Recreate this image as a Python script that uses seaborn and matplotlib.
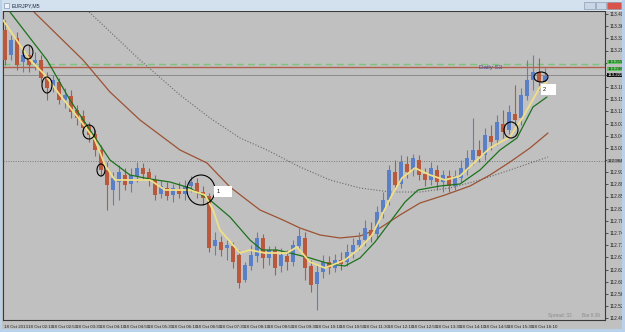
import numpy as np
import pandas as pd
import matplotlib
matplotlib.use('Agg')
import matplotlib.pyplot as plt
import seaborn as sns
from matplotlib.patches import Ellipse, Rectangle
import matplotlib.transforms as mtransforms

sns.set_style('white')
plt.rcParams['font.family'] = ['Liberation Sans Narrow', 'Liberation Sans', 'DejaVu Sans']

# ---------------- data (EURJPY) ----------------
opens = [113.357, 113.282, 113.333, 113.261, 113.282, 113.258, 113.267, 113.213, 113.189, 113.201,
         113.147, 113.159, 113.117, 113.099, 113.069, 113.045, 112.997, 112.937, 112.877, 112.901,
         112.922, 112.895, 112.919, 112.943, 112.931, 112.907, 112.865, 112.883, 112.862, 112.880,
         112.865, 112.889, 112.898, 112.871, 112.859, 112.709, 112.721, 112.703, 112.709, 112.682,
         112.607, 112.649, 112.679, 112.733, 112.673, 112.697, 112.649, 112.679, 112.661, 112.709,
         112.733, 112.649, 112.595, 112.631, 112.661, 112.643, 112.667, 112.661, 112.691, 112.712,
         112.727, 112.757, 112.745, 112.811, 112.847, 112.931, 112.895, 112.955, 112.937, 112.967,
         112.925, 112.907, 112.937, 112.901, 112.919, 112.889, 112.913, 112.937, 112.967, 112.997,
         112.982, 113.039, 113.027, 113.075, 113.057, 113.105, 113.093, 113.159, 113.207, 113.231,
         113.201]
closes = [113.267, 113.327, 113.252, 113.282, 113.252, 113.267, 113.213, 113.183, 113.207, 113.147,
          113.162, 113.111, 113.093, 113.063, 113.042, 112.997, 112.937, 112.892, 112.913, 112.931,
          112.892, 112.922, 112.943, 112.925, 112.907, 112.862, 112.889, 112.859, 112.883, 112.865,
          112.889, 112.901, 112.871, 112.853, 112.703, 112.727, 112.697, 112.712, 112.661, 112.598,
          112.652, 112.682, 112.733, 112.673, 112.697, 112.643, 112.682, 112.661, 112.712, 112.739,
          112.643, 112.592, 112.631, 112.661, 112.643, 112.667, 112.655, 112.691, 112.712, 112.727,
          112.763, 112.739, 112.811, 112.847, 112.937, 112.892, 112.961, 112.931, 112.973, 112.922,
          112.907, 112.943, 112.901, 112.922, 112.889, 112.919, 112.943, 112.973, 112.997, 112.979,
          113.042, 113.021, 113.081, 113.051, 113.111, 113.087, 113.162, 113.207, 113.231, 113.201,
          113.219]
highs = [113.387, 113.342, 113.351, 113.303, 113.312, 113.291, 113.282, 113.231, 113.222, 113.213,
         113.183, 113.177, 113.132, 113.117, 113.081, 113.057, 113.012, 112.961, 112.931, 112.952,
         112.943, 112.943, 112.961, 112.958, 112.943, 112.922, 112.907, 112.901, 112.895, 112.901,
         112.907, 112.919, 112.913, 112.889, 112.868, 112.751, 112.739, 112.727, 112.721, 112.697,
         112.661, 112.712, 112.751, 112.745, 112.709, 112.709, 112.703, 112.697, 112.727, 112.763,
         112.751, 112.667, 112.652, 112.682, 112.679, 112.685, 112.691, 112.715, 112.733, 112.751,
         112.787, 112.781, 112.829, 112.871, 112.952, 112.967, 112.982, 112.979, 112.985, 112.982,
         112.943, 112.961, 112.952, 112.937, 112.937, 112.937, 112.967, 112.997, 113.093, 113.027,
         113.063, 113.072, 113.102, 113.117, 113.132, 113.192, 113.183, 113.267, 113.282, 113.273,
         113.243]
lows = [113.252, 113.267, 113.237, 113.231, 113.231, 113.237, 113.201, 113.147, 113.171, 113.135,
        113.123, 113.093, 113.072, 113.051, 113.021, 112.979, 112.919, 112.817, 112.832, 112.847,
        112.877, 112.871, 112.901, 112.907, 112.889, 112.847, 112.853, 112.847, 112.841, 112.853,
        112.847, 112.871, 112.853, 112.832, 112.691, 112.682, 112.679, 112.667, 112.643, 112.583,
        112.601, 112.637, 112.661, 112.643, 112.652, 112.622, 112.631, 112.637, 112.649, 112.697,
        112.607, 112.571, 112.517, 112.613, 112.625, 112.631, 112.637, 112.649, 112.673, 112.697,
        112.709, 112.721, 112.733, 112.793, 112.832, 112.877, 112.883, 112.913, 112.919, 112.907,
        112.889, 112.892, 112.877, 112.871, 112.871, 112.877, 112.901, 112.922, 112.952, 112.961,
        112.967, 112.997, 113.012, 113.033, 113.045, 113.072, 113.072, 113.147, 113.177, 113.177,
        113.189]

time_labels = ["18 Oct 2013", "18 Oct 02:10", "18 Oct 02:50", "18 Oct 03:30", "18 Oct 04:10",
               "18 Oct 04:50", "18 Oct 05:30", "18 Oct 06:10", "18 Oct 06:50", "18 Oct 07:30",
               "18 Oct 08:10", "18 Oct 08:50", "18 Oct 09:30", "18 Oct 10:10", "18 Oct 10:50",
               "18 Oct 11:30", "18 Oct 12:10", "18 Oct 12:50", "18 Oct 13:30", "18 Oct 14:10",
               "18 Oct 14:50", "18 Oct 15:30", "18 Oct 16:10"]

# moving averages (bar index, price)
ma_fast_x = [-0.33, 2.5, 4.17, 6.67, 9.17, 12.5, 15, 16.67, 18.33, 20.83, 24.17, 26.67, 30.83, 33.33,
             34.67, 35.83, 39.17, 40.83, 43.33, 47, 48.67, 50.83, 53.33, 56.67, 59.17, 61.17, 62.83,
             64.5, 66.17, 68.33, 70.83, 73.33, 75.83, 78.33, 80.83, 84.17, 86.33, 89.17, 90.33]
ma_fast_y = [113.387, 113.312, 113.267, 113.222, 113.162, 113.087, 113.027, 112.952, 112.907, 112.907,
             112.907, 112.877, 112.877, 112.862, 112.817, 112.757, 112.688, 112.697, 112.688, 112.688,
             112.706, 112.661, 112.643, 112.667, 112.703, 112.742, 112.802, 112.862, 112.913, 112.943,
             112.922, 112.907, 112.919, 112.961, 113.003, 113.036, 113.096, 113.186, 113.201]
ma_mid_x = [0.83, 7, 10.83, 14.17, 17.5, 20.83, 24.17, 27.5, 30.83, 34.17, 37.5, 40.83, 42.83, 45.33,
            47.5, 50.83, 54.17, 56.67, 59.17, 61.67, 64.17, 66.67, 68.83, 72.5, 75.83, 79.17, 82.5,
            85.33, 88, 90.33]
ma_mid_y = [113.411, 113.267, 113.147, 113.057, 112.967, 112.922, 112.910, 112.901, 112.883, 112.847,
            112.796, 112.727, 112.697, 112.697, 112.688, 112.673, 112.655, 112.649, 112.673, 112.721,
            112.781, 112.841, 112.877, 112.889, 112.895, 112.937, 112.997, 113.033, 113.126, 113.156]
ma_slow_x = [3.83, 5, 13, 17.5, 22.5, 29.17, 33.67, 37.5, 42.5, 46.33, 49.17, 52.5, 55.83, 59.17,
             62.5, 65.83, 69.17, 73.33, 77.5, 80.83, 84.17, 87.5, 90.5]
ma_slow_y = [113.432, 113.408, 113.267, 113.171, 113.087, 112.997, 112.958, 112.886, 112.817, 112.787,
             112.763, 112.742, 112.733, 112.739, 112.763, 112.802, 112.838, 112.862, 112.889, 112.922,
             112.961, 113.003, 113.048]
ma_long_x = [13.33, 22.5, 29.17, 34.17, 39.17, 43.67, 49.17, 54.17, 59.17, 64.17, 69.17, 74.17,
             79.17, 84.17, 90.5]
ma_long_y = [113.423, 113.267, 113.162, 113.093, 113.033, 112.997, 112.946, 112.907, 112.883, 112.871,
             112.871, 112.883, 112.907, 112.937, 112.976]

green_level = 113.255
s3_level = 113.246
bid_level = 113.222
pivot_level = 112.964

y_tick_top = 113.405
y_tick_step = 0.0365

# annotations: circles (bar centre, price centre, width in bars, height in price)
circ_x = [3.83, 7.0, 14.0, 16.0, 32.67, 84.33, 89.33]
circ_y = [113.291, 113.192, 113.051, 112.937, 112.877, 113.057, 113.216]
circ_w = [1.67, 1.67, 2.0, 1.33, 4.67, 2.33, 2.33]
circ_h = [0.042, 0.048, 0.042, 0.036, 0.090, 0.048, 0.030]

# ---------------- figure ----------------
W, H = 625, 332
fig = plt.figure(figsize=(W / 100, H / 100), dpi=100, facecolor='#c0c0c0')

def fx(px):
    return px / W

def fy(py):
    return 1 - py / H

ax = fig.add_axes([fx(3), fy(320), fx(605) - fx(3), fy(11) - fy(320)])
ax.set_facecolor('#c0c0c0')

df = pd.DataFrame({'bar': np.arange(len(opens)), 'open': opens, 'close': closes,
                   'high': highs, 'low': lows})
up = df['close'] >= df['open']
col_up, col_dn = '#5b7fc4', '#b8583c'
colors = np.where(up, col_up, col_dn)

ax.vlines(df['bar'], df['low'], df['high'], colors=colors, lw=0.8, zorder=3)
body_lo = np.minimum(df['open'], df['close'])
body_h = np.maximum(np.abs(df['close'] - df['open']), 0.002)
ax.bar(df['bar'], body_h, bottom=body_lo, width=0.62, color=colors, edgecolor='none', zorder=4)

# moving averages via seaborn
sns.lineplot(x=ma_long_x, y=ma_long_y, ax=ax, color='#6a6a6a', lw=0.8, linestyle=(0, (1, 1.6)),
             estimator=None, sort=False, zorder=2)
sns.lineplot(x=ma_slow_x, y=ma_slow_y, ax=ax, color='#9c5232', lw=0.9,
             estimator=None, sort=False, zorder=2)
sns.lineplot(x=ma_mid_x, y=ma_mid_y, ax=ax, color='#1c721c', lw=0.9,
             estimator=None, sort=False, zorder=5)
sns.lineplot(x=ma_fast_x, y=ma_fast_y, ax=ax, color='#f1df86', lw=1.3,
             estimator=None, sort=False, zorder=5)

# horizontal levels
ax.axhline(green_level, color='#7cc47c', lw=1.0, linestyle=(0, (5, 3)), zorder=1)
ax.axhline(s3_level, color='#b0604c', lw=1.0, zorder=1)
ax.axhline(bid_level, color='#8c8c8c', lw=0.7, zorder=1)
ax.axhline(pivot_level, color='#7a7a7a', lw=0.7, linestyle=(0, (1, 1.5)), zorder=1)

ax.text(79.0, s3_level, 'Daily S3', fontsize=4.5, color='#4a4a92', va='center', ha='left', zorder=6)

# circles
for cx, cy, cw, ch in zip(circ_x, circ_y, circ_w, circ_h):
    ax.add_patch(Ellipse((cx, cy), cw, ch, fill=False, edgecolor='black', lw=0.8, zorder=7))

# numbered boxes
ax.add_patch(Rectangle((34.83, 112.856), 3.0, 0.033, facecolor='white', edgecolor='none', zorder=7))
ax.text(35.2, 112.8725, '1', fontsize=4, color='#111111', va='center', ha='left', zorder=8)
ax.add_patch(Rectangle((89.33, 113.162), 2.5, 0.033, facecolor='white', edgecolor='none', zorder=7))
ax.text(89.6, 113.1785, '2', fontsize=4, color='#111111', va='center', ha='left', zorder=8)

ax.text(0.905, 0.008, 'Spread: 32', transform=ax.transAxes, fontsize=3.4, color='#8a8a8a',
        ha='left', va='bottom')
ax.text(0.962, 0.008, 'Bar 0:39', transform=ax.transAxes, fontsize=3.4, color='#8a8a8a',
        ha='left', va='bottom')

# axes limits
ax.set_xlim(-0.33, 100.0)
ax.set_ylim(112.487, 113.414)

# y ticks on the right; labels hidden where a price box sits
box_levels = [green_level, s3_level, bid_level, pivot_level]
yt = [y_tick_top - k * y_tick_step for k in range(26)]
ax.yaxis.tick_right()
ax.set_yticks(yt)
ax.set_yticklabels(['' if min(abs(v - b) for b in box_levels) < 0.022 else f'{v:.3f}' for v in yt])
ax.tick_params(axis='y', labelsize=3.4, length=2, width=0.5, pad=1, colors='#202020')

# x ticks at bottom
xt = [4 * k - 0.33 for k in range(len(time_labels))]
ax.set_xticks(xt)
ax.set_xticklabels(time_labels)
ax.tick_params(axis='x', labelsize=3.2, length=2.5, width=0.5, pad=0.8, colors='#202020',
               direction='out')
offset = mtransforms.ScaledTranslation(1.2 / 100, 0, fig.dpi_scale_trans)
for lbl in ax.get_xticklabels():
    lbl.set_horizontalalignment('left')
    lbl.set_transform(lbl.get_transform() + offset)

for s in ax.spines.values():
    s.set_color('#3a3a3a')
    s.set_linewidth(0.8)

# price label boxes in the right column
trans = mtransforms.blended_transform_factory(ax.transAxes, ax.transData)
for val, fc, tc, va in [(green_level, '#5ec85e', '#103010', 'bottom'),
                        (s3_level, '#5ec85e', '#103010', 'top'),
                        (bid_level, '#111111', '#ffffff', 'center'),
                        (pivot_level, '#a0a0a0', '#202020', 'center')]:
    ax.text(1.004, val, f'{val:.3f}', transform=trans, fontsize=3.2, color=tc, va=va, ha='left',
            bbox=dict(boxstyle='square,pad=0.1', facecolor=fc, edgecolor='none'), zorder=9,
            clip_on=False)

# window chrome
fig.patches.append(Rectangle((0, fy(10.5)), 1, 1 - fy(10.5), transform=fig.transFigure,
                             facecolor='#d3e0ee', edgecolor='none', zorder=0))
fig.patches.append(Rectangle((fx(622), 0), 1 - fx(622), 1, transform=fig.transFigure,
                             facecolor='#b9d1ea', edgecolor='none', zorder=0))
fig.patches.append(Rectangle((0, 0), 1, fy(329), transform=fig.transFigure,
                             facecolor='#b9d1ea', edgecolor='none', zorder=0))
fig.patches.append(Rectangle((0, 0), fx(2), 1, transform=fig.transFigure,
                             facecolor='#b9d1ea', edgecolor='none', zorder=0))
for x0, w, c in [(584, 11, '#c8d6e6'), (596, 10, '#c8d6e6'), (607, 14, '#d9534a')]:
    fig.patches.append(Rectangle((fx(x0), fy(9)), fx(w), fy(2) - fy(9), transform=fig.transFigure,
                                 facecolor=c, edgecolor='#8090a8', lw=0.4, zorder=1))
fig.patches.append(Rectangle((fx(4), fy(8)), fx(5), fy(3) - fy(8), transform=fig.transFigure,
                             facecolor='#eef3f8', edgecolor='#7088a8', lw=0.4, zorder=1))
fig.text(fx(12), fy(5.5), 'EURJPY,M5', fontsize=3.8, color='#1a2a40', va='center', ha='left')

fig.savefig('out.png', dpi=100, facecolor=fig.get_facecolor())
